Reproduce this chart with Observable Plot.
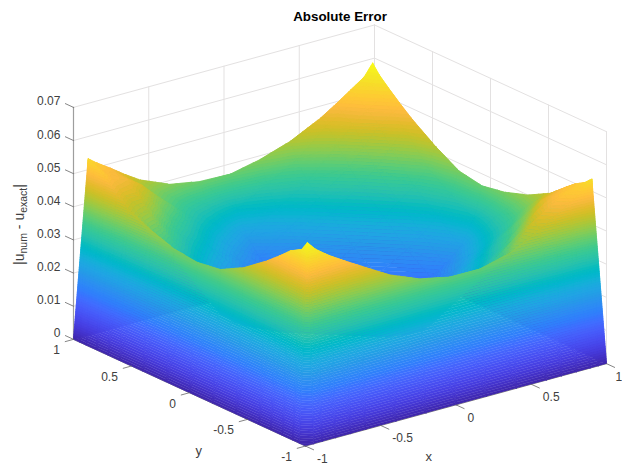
<!DOCTYPE html>
<html><head><meta charset="utf-8">
<style>html,body{margin:0;padding:0;background:#fff}svg{display:block}</style>
<script src="https://cdn.jsdelivr.net/npm/d3@7"></script>
<script src="https://cdn.jsdelivr.net/npm/@observablehq/plot@0.6"></script>
</head><body><div id="chart"></div>
<script>
const title = "Absolute Error";
const xTicks = [-1, -0.5, 0, 0.5, 1];
const yTicks = [-1, -0.5, 0, 0.5, 1];
const zTicks = [0, 0.01, 0.02, 0.03, 0.04, 0.05, 0.06, 0.07];
const gridCoords = [-1,-0.945,-0.89,-0.8,-0.7,-0.6,-0.4,-0.2,0,0.2,0.4,0.6,0.7,0.8,0.89,0.945,1];
// error values: one row per y in gridCoords, one column per x
const errorRows = [
[0,0,0,0,0,0,0,0,0,0,0,0,0,0,0,0,0],
[0,.0598,.0571,.0541,.0513,.0486,.0433,.0396,.0377,.0376,.0399,.0446,.0473,.0501,.0526,.0555,0],
[0,.0566,.0565,.0535,.0505,.0475,.0385,.0338,.029,.033,.0372,.046,.049,.052,.053,.0536,0],
[0,.055,.0535,.0505,.047,.042,.0334,.0276,.0216,.0276,.0334,.042,.047,.05,.0515,.0517,0],
[0,.0518,.0505,.047,.042,.037,.03,.0233,.0175,.0233,.03,.037,.042,.047,.0485,.0486,0],
[0,.0488,.047,.042,.037,.033,.0267,.02,.015,.02,.0267,.033,.037,.042,.0455,.0457,0],
[0,.0435,.0385,.0334,.03,.0267,.02,.015,.011,.015,.02,.0267,.03,.0334,.0375,.0419,0],
[0,.0397,.0335,.0276,.0233,.02,.015,.011,.008,.011,.015,.02,.0233,.0276,.0331,.0395,0],
[0,.0386,.029,.0216,.0175,.015,.011,.008,.006,.008,.011,.015,.0175,.0216,.029,.0382,0],
[0,.0394,.0331,.0276,.0233,.02,.015,.011,.008,.011,.015,.02,.0233,.0276,.0331,.0395,0],
[0,.0418,.0372,.0334,.03,.0267,.02,.015,.011,.015,.02,.0267,.03,.0334,.038,.0436,0],
[0,.045,.0435,.042,.037,.033,.0267,.02,.015,.02,.0267,.033,.037,.042,.0465,.0485,0],
[0,.0481,.0465,.046,.042,.037,.03,.0233,.0175,.0233,.03,.037,.042,.047,.0497,.0514,0],
[0,.0516,.05,.049,.046,.0415,.0334,.0276,.0216,.0276,.0334,.042,.047,.05,.0527,.0545,0],
[0,.0537,.051,.0495,.0455,.042,.0365,.0325,.0285,.0335,.0385,.0465,.049,.0527,.0554,.0575,0],
[0,.0547,.0528,.0501,.0469,.044,.0402,.0386,.0383,.0403,.0433,.0478,.0507,.0538,.0566,.0601,0],
[0,0,0,0,0,0,0,0,0,0,0,0,0,0,0,0,0]
];
const parula = [
"#3e26a8","#4029b4","#422ebf","#4332cb","#4537d5","#463cde","#4741e5","#4747eb","#484df0","#4752f4",
"#4758f8","#465dfb","#4563fc","#4269fe","#3e6fff","#3875fe","#327cfc","#2f81fa","#2d87f7","#2d8cf3",
"#2b91ef","#2796eb","#259be7","#23a0e5","#20a5e3","#1ca9df","#18addb","#12b1d6","#08b5d0","#01b8ca",
"#02bac3","#0bbdbc","#19bfb6","#24c1ae","#2cc3a7","#31c69f","#37c897","#3fca8e","#4acb84","#57cc7a",
"#64cd6f","#72cc64","#81cc59","#8fcb4e","#9dc943","#abc739","#b9c431","#c5c22a","#d1bf27","#dcbd29",
"#e6bb2d","#efba36","#f8ba3d","#febd3c","#fec338","#fec934","#fccf30","#f9d62d","#f7dc2a","#f5e327",
"#f5e924","#f6ef20","#f7f51b","#f9fb15"];

// MATLAB-style orthographic 3-D view
const project = (x, y, z) => [339.5 + 150.5 * x - 116 * y, 351 - 41.2 * x - 53.35 * y - 3314 * z];
const pt = (x, y, z) => { const [px, py] = project(x, y, z); return {px, py}; };

function clip(poly, level, keepAbove) {
  const out = [];
  for (let i = 0; i < poly.length; i++) {
    const a = poly[i], b = poly[(i + 1) % poly.length];
    const ina = keepAbove ? a[2] >= level : a[2] <= level;
    const inb = keepAbove ? b[2] >= level : b[2] <= level;
    if (ina) out.push(a);
    if (ina !== inb) {
      const t = (level - a[2]) / (b[2] - a[2]);
      out.push([a[0] + t * (b[0] - a[0]), a[1] + t * (b[1] - a[1]), level]);
    }
  }
  return out;
}
const bandCount = 80, bandWidth = 0.0601 / bandCount;
let polyId = 0;
function addTriangle(tri, target) {
  const zs = tri.map(d => d[2]);
  const b0 = Math.max(0, Math.floor(d3.min(zs) / bandWidth));
  const b1 = Math.min(bandCount - 1, Math.floor((d3.max(zs) - 1e-9) / bandWidth));
  for (let b = b0; b <= Math.max(b0, b1); b++) {
    let poly = clip(tri, b * bandWidth, true);
    if (poly.length) poly = clip(poly, (b + 1) * bandWidth, false);
    if (poly.length < 3) continue;
    const id = polyId++;
    const level = (b + 0.5) * bandWidth;
    for (const p of poly) target.push({id, level, ...pt(p[0], p[1], p[2])});
  }
}
// painter's order: far corner (x = 1, y = 1) first; the two near walls go in a later layer
const n = gridCoords.length;
const cells = [];
for (let j = 0; j < n - 1; j++) for (let i = 0; i < n - 1; i++) cells.push([i, j]);
cells.sort((a, b) => (116 * gridCoords[b[0]] + 150.5 * gridCoords[b[1]]) - (116 * gridCoords[a[0]] + 150.5 * gridCoords[a[1]]));
const innerFacets = [], wallFacets = [];
for (const [i, j] of cells) {
  const P = (ii, jj) => [gridCoords[ii], gridCoords[jj], errorRows[jj][ii]];
  const target = (i === 0 || j === 0) ? wallFacets : innerFacets;
  addTriangle([P(i + 1, j), P(i, j + 1), P(i + 1, j + 1)], target);
  addTriangle([P(i + 1, j), P(i, j + 1), P(i, j)], target);
}

const gridSegs = [];
let seg = 0;
const addSeg = (a, b) => { const id = seg++; gridSegs.push({id, ...pt(...a)}, {id, ...pt(...b)}); };
for (const z of zTicks) { addSeg([-1, 1, z], [1, 1, z]); addSeg([1, 1, z], [1, -1, z]); }
for (const x of xTicks) { addSeg([x, 1, 0], [x, 1, 0.07]); addSeg([x, -1, 0], [x, 1, 0]); }
for (const y of yTicks) { addSeg([1, y, 0], [1, y, 0.07]); addSeg([-1, y, 0], [1, y, 0]); }

const axisSegs = [];
const addAxis = (a, b) => { const id = seg++; axisSegs.push({id, ...pt(...a)}, {id, ...pt(...b)}); };
addAxis([-1, 1, 0], [-1, 1, 0.07]);
const baseSegs = [];
{ const a = seg++, b = seg++;
  baseSegs.push({id: a, ...pt(-1, 1, 0)}, {id: a, ...pt(-1, -1, 0)}, {id: b, ...pt(-1, -1, 0)}, {id: b, ...pt(1, -1, 0)}); }
const tickSegs = [];
const addTick = (a, b) => { const id = seg++; tickSegs.push({id, ...pt(...a)}, {id, ...pt(...b)}); };
for (const x of xTicks) addTick([x, -1, 0], [x, -1.07, 0]);
for (const y of yTicks) addTick([-1, y, 0], [-1.055, y, 0]);
for (const z of zTicks) addTick([-1, 1, z], [-1, 1.07, z]);

const xLabels = xTicks.map(v => ({text: String(v), ...pt(v, -1.07, 0)}));
const yLabels = yTicks.map(v => ({text: String(v), ...pt(-1.055, v, 0)}));
const zLabels = zTicks.map(v => ({text: String(v), ...pt(-1, 1.07, v)}));

const font = {fontFamily: "'Liberation Sans', Helvetica, Arial, sans-serif"};
const facetStyle = {x: "px", y: "py", z: "id", fill: "level", stroke: "level", strokeWidth: 0.6, strokeLinejoin: "round"};
const chart = Plot.plot({
  width: 622, height: 468, margin: 0,
  x: {domain: [0, 622], range: [0, 622], axis: null},
  y: {domain: [0, 468], range: [0, 468], axis: null},
  color: {type: "linear", domain: [0, 0.0601], interpolate: d3.piecewise(d3.interpolateRgb, parula)},
  style: {background: "#fff", ...font},
  marks: [
    Plot.line(gridSegs, {x: "px", y: "py", z: "id", stroke: "#e3e1e1", strokeWidth: 1}),
    Plot.line(baseSegs, {x: "px", y: "py", z: "id", stroke: "#555", strokeWidth: 0.7}),
    Plot.line(axisSegs, {x: "px", y: "py", z: "id", stroke: "#9e9e9e", strokeWidth: 1.2}),
    Plot.line(innerFacets, facetStyle),
    Plot.line(wallFacets, facetStyle),
    Plot.line(tickSegs, {x: "px", y: "py", z: "id", stroke: "#666", strokeWidth: 0.8}),
    Plot.text(zLabels, {x: "px", y: "py", text: "text", textAnchor: "end", dx: -5, dy: -2, fontSize: 12, fill: "#404040"}),
    Plot.text(yLabels, {x: "px", y: "py", text: "text", textAnchor: "end", dx: -5.4, dy: 8.7, fontSize: 12, fill: "#404040"}),
    Plot.text(xLabels.slice(0, -1), {x: "px", y: "py", text: "text", textAnchor: "start", dx: 3.5, dy: 9.3, fontSize: 12, fill: "#404040"}),
    Plot.text(xLabels.slice(-1), {x: "px", y: "py", text: "text", textAnchor: "start", dx: 1, dy: 9.3, fontSize: 12, fill: "#404040"}),
    Plot.text([{px: 428.3, py: 456.7, t: "x"}, {px: 198.3, py: 450.5, t: "y"}], {x: "px", y: "py", text: "t", fontSize: 13, fill: "#404040"}),
    Plot.text([{px: 19, py: 224, t: "|u_num - u_exact|"}], {x: "px", y: "py", text: "t", rotate: -90, fontSize: 14, fill: "#404040"}),
    Plot.text([{px: 339.5, py: 16, t: title}], {x: "px", y: "py", text: "t", fontSize: 13.4, fontWeight: "bold", fill: "#000"})
  ]
});
d3.select(chart).selectAll("text").filter(function () { return this.textContent === "|u_num - u_exact|"; })
  .each(function () {
    const s = d3.select(this).selectAll("tspan").empty() ? d3.select(this) : d3.select(this).select("tspan");
    s.text(null);
    const add = (txt, sub) => { const t = s.append("tspan").text(txt); if (sub) t.attr("font-size", 10.5).attr("dy", 3); return t; };
    add("|u"); add("num", true);
    s.append("tspan").attr("dy", -3).text(" - u");
    add("exact", true);
    s.append("tspan").attr("dy", -3).text("|");
  });
document.getElementById("chart").appendChild(chart);
</script></body></html>
